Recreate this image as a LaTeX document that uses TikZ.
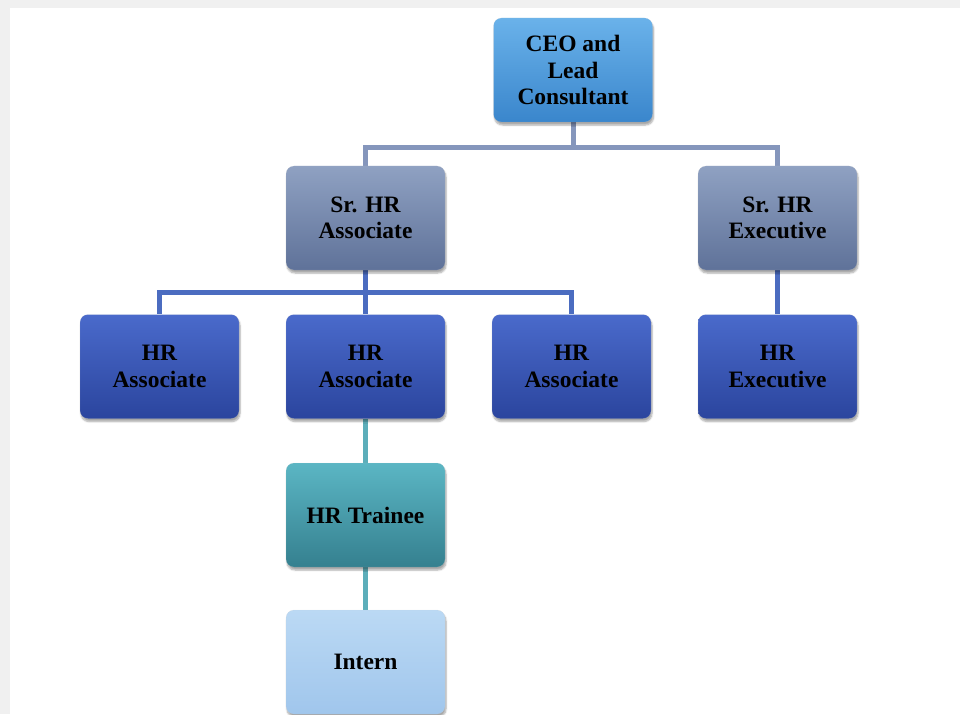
\documentclass[tikz,border=0pt]{standalone}
\usepackage{fontspec}
\newfontfamily\boxfont{Liberation Serif}[BoldFont={Liberation Serif Bold},UprightFont={Liberation Serif Bold}]
\usetikzlibrary{backgrounds,shadows.blur}
\definecolor{ceoA}{HTML}{6AB2EA}
\definecolor{ceoB}{HTML}{3A86CC}
\definecolor{srA}{HTML}{8FA1C2}
\definecolor{srB}{HTML}{5F7299}
\definecolor{hrA}{HTML}{4A6ACB}
\definecolor{hrB}{HTML}{2B459E}
\definecolor{trA}{HTML}{5BB6C4}
\definecolor{trB}{HTML}{35808F}
\definecolor{inA}{HTML}{BBD9F4}
\definecolor{inB}{HTML}{A0C6EC}
\definecolor{lnA}{HTML}{8596BC}
\definecolor{lnB}{HTML}{4B6CC0}
\definecolor{lnC}{HTML}{5CAEBA}
\definecolor{strip}{HTML}{F0F0F0}
\tikzset{
  box/.style={rounded corners=8pt, minimum width=159pt, minimum height=104pt,
    align=center, font=\boxfont\fontsize{23.5}{26.5}\selectfont, text=black,
    blur shadow={shadow xshift=1pt, shadow yshift=-3pt, shadow blur steps=6, shadow opacity=35},
    draw=white!80!black, draw opacity=0.3},
  ceobox/.style={box, top color=ceoA, bottom color=ceoB},
  srbox/.style={box, top color=srA, bottom color=srB},
  hrbox/.style={box, top color=hrA, bottom color=hrB},
  trbox/.style={box, top color=trA, bottom color=trB},
  inbox/.style={box, top color=inA, bottom color=inB},
  conn/.style={line width=5pt},
}
\begin{document}
\begin{tikzpicture}[x=1pt,y=-1pt]
\useasboundingbox (0,0) rectangle (960,714);
\node[ceobox] (ceo) at (573,70) {CEO and\\Lead\\Consultant};
\node[srbox] (sra) at (365.5,218) {Sr. HR\\Associate};
\node[srbox] (sre) at (777.5,218) {Sr. HR\\Executive};
\node[hrbox] (hra1) at (159.5,366.5) {HR\\Associate};
\node[hrbox] (hra2) at (365.5,366.5) {HR\\Associate};
\node[hrbox] (hra3) at (571.5,366.5) {HR\\Associate};
\node[hrbox] (hre) at (777.5,366.5) {HR\\Executive};
\node[trbox] (tr) at (365.5,515) {HR Trainee};
\node[inbox] (in) at (365.5,662) {Intern};
\coordinate (j1) at (573,148);
\coordinate (j2) at (365.5,292);
\begin{scope}[on background layer]
  \fill[strip] (0,0) rectangle (960,8);
  \fill[strip] (0,0) rectangle (10,714);
  \draw[conn, lnA] (ceo.south) -- (j1);
  \draw[conn, lnA] (j1) -| (sra.north);
  \draw[conn, lnA] (j1) -| (sre.north);
  \draw[conn, lnB] (sra.south) -- (j2);
  \draw[conn, lnB] (j2) -| (hra1.north);
  \draw[conn, lnB] (j2) -| (hra3.north);
  \draw[conn, lnB] (j2) -- (hra2.north);
  \draw[conn, lnB] (sre.south) -- (hre.north);
  \draw[conn, lnC] (hra2.south) -- (tr.north);
  \draw[conn, lnC] (tr.south) -- (in.north);
\end{scope}
\end{tikzpicture}
\end{document}
